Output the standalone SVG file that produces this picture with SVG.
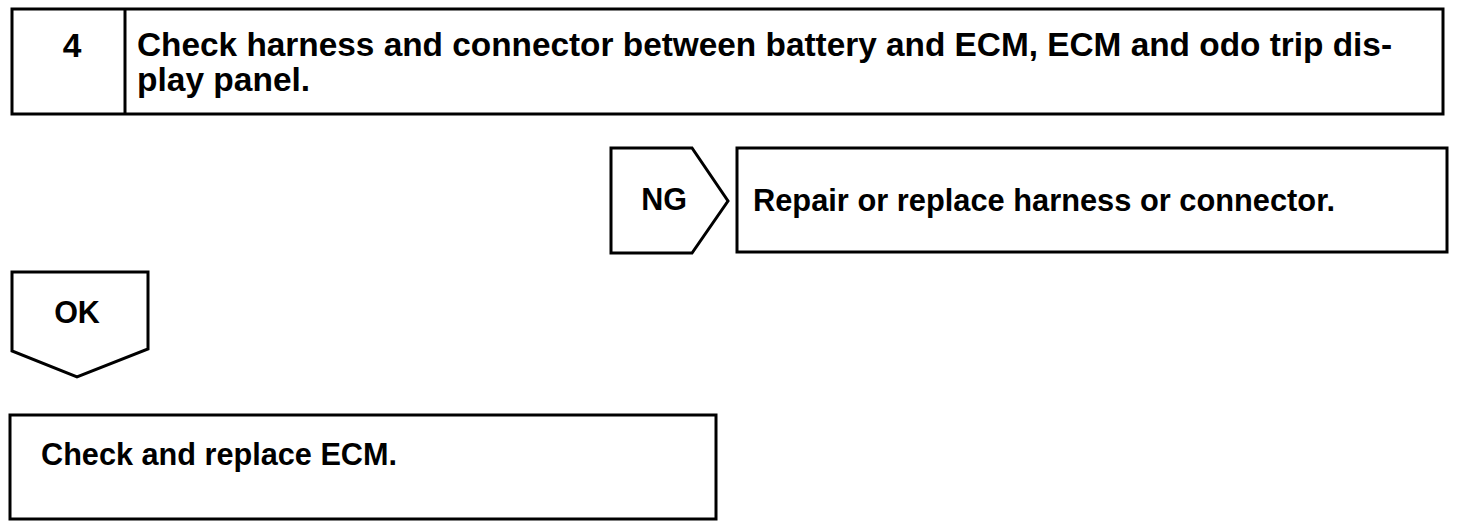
<svg xmlns="http://www.w3.org/2000/svg" width="1472" height="530" viewBox="0 0 1472 530">
<style>
.box{fill:#fff;stroke:#000;stroke-width:3;stroke-linejoin:miter}
.t{font-family:"Liberation Sans",Arial,sans-serif;font-weight:bold;fill:#000}
.h{font-size:33.5px}
.m{font-size:30.5px}
</style>
<rect width="1472" height="530" fill="#fff"/>
<g id="step4">
<rect class="box" x="12" y="9" width="1431" height="105"/>
<line x1="125" y1="9" x2="125" y2="114" stroke="#000" stroke-width="3"/>
<text class="t h" x="72" y="57" text-anchor="middle">4</text>
<text class="t h" x="137" y="56" textLength="1255" lengthAdjust="spacingAndGlyphs">Check harness and connector between battery and ECM, ECM and odo trip dis-</text>
<text class="t h" x="137" y="91">play panel.</text>
</g>
<g id="connectors">
<g id="ng">
<polygon class="box" points="611,148 692,148 728,201 692,253 611,253"/>
<text class="t m" x="664" y="210" text-anchor="middle">NG</text>
</g>
<g id="ok">
<polygon class="box" points="12,272 148,272 148,349 77,377 12,351"/>
<text class="t m" x="77" y="323" text-anchor="middle">OK</text>
</g>
</g>
<g id="repair">
<rect class="box" x="737" y="148" width="710" height="104"/>
<text class="t m" x="753" y="211" textLength="582" lengthAdjust="spacingAndGlyphs">Repair or replace harness or connector.</text>
</g>
<g id="replace-ecm">
<rect class="box" x="10" y="415" width="706" height="104"/>
<text class="t m" x="41" y="465" textLength="356" lengthAdjust="spacingAndGlyphs">Check and replace ECM.</text>
</g>
</svg>
